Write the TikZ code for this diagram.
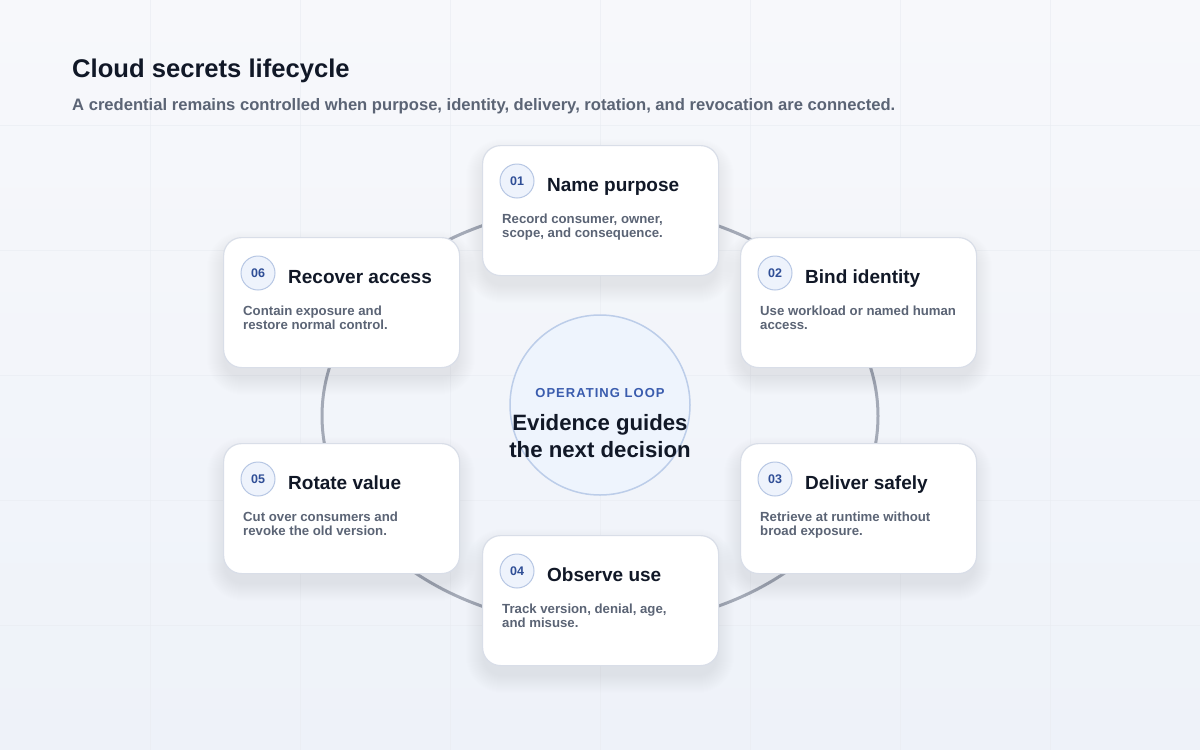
\documentclass[tikz,border=0pt]{standalone}
\usepackage{fontspec}
\setmainfont{Liberation Sans}
\usetikzlibrary{calc}
\definecolor{bgtop}{HTML}{F7F8FB}
\definecolor{bgbot}{HTML}{EEF2F9}
\definecolor{gridc}{HTML}{E9ECF2}
\definecolor{ringc}{HTML}{A4AAB7}
\definecolor{cardbd}{HTML}{D9DEE8}
\definecolor{shadowc}{HTML}{1E2A4A}
\definecolor{ink}{HTML}{111827}
\definecolor{muted}{HTML}{5B6475}
\definecolor{numfill}{HTML}{EEF3FC}
\definecolor{numbd}{HTML}{B7C7E4}
\definecolor{numtxt}{HTML}{2F4E96}
\definecolor{hubfill}{HTML}{EEF4FD}
\definecolor{hubbd}{HTML}{BCCDE9}
\definecolor{hubtxt}{HTML}{3A5CAE}
\begin{document}
\begin{tikzpicture}[x=1pt,y=-1pt,
  card/.style={draw=cardbd, line width=1.2pt, fill=white, rounded corners=18pt,
    minimum width=236pt, minimum height=130pt, inner sep=0pt, anchor=north west},
  shadowlayer/.style={fill=shadowc, opacity=0.0045},
  num/.style={circle, draw=numbd, line width=1pt, fill=numfill, minimum size=34pt, inner sep=0pt},
  numtext/.style={anchor=base, inner sep=0pt, font=\fontsize{12.5}{14}\selectfont\bfseries, text=numtxt},
  ctitle/.style={anchor=base west, inner sep=0pt, font=\fontsize{19}{22}\selectfont\bfseries, text=ink},
  cdesc/.style={anchor=base west, inner sep=0pt, font=\fontsize{13.2}{14}\selectfont\bfseries, text=muted},
  hubline/.style={anchor=base, inner sep=0pt, font=\fontsize{22.2}{26}\selectfont\bfseries, text=ink},
]
\useasboundingbox (0,0) rectangle (1200,750);
\fill[top color=bgtop, bottom color=bgbot] (0,0) rectangle (1200,750);
\foreach \gx in {150,300,...,1050} \draw[gridc, line width=1pt, opacity=0.6] (\gx,0) -- (\gx,750);
\foreach \gy in {125,250,...,625} \draw[gridc, line width=1pt, opacity=0.6] (0,\gy) -- (1200,\gy);

\node[anchor=base west, inner sep=0pt, font=\fontsize{25.6}{30}\selectfont\bfseries, text=ink] (title) at (72,77) {Cloud secrets lifecycle};
\node[anchor=base west, inner sep=0pt, font=\fontsize{16.6}{19}\selectfont\bfseries, text=muted] (subtitle) at (72,110) {A credential remains controlled when purpose, identity, delivery, rotation, and revocation are connected.};

\coordinate (ringc) at (600,416);
\draw[ringc, line width=3pt] (ringc) ellipse [x radius=278pt, y radius=210pt];

\foreach \nm/\cx/\cy/\nn/\tt/\la/\lb in {
  1/482/145/01/Name purpose/{Record consumer, owner,}/{scope, and consequence.},
  2/740/237/02/Bind identity/{Use workload or named human}/{access.},
  3/740/443/03/Deliver safely/{Retrieve at runtime without}/{broad exposure.},
  4/482/535/04/Observe use/{Track version, denial, age,}/{and misuse.},
  5/223/443/05/Rotate value/{Cut over consumers and}/{revoke the old version.},
  6/223/237/06/Recover access/{Contain exposure and}/{restore normal control.}}{
  \foreach \k in {1,...,18}{
    \pgfmathsetmacro\rr{18+\k}
    \fill[shadowlayer, rounded corners=\rr pt] ($(\cx,\cy)+(-\k+2,-\k+12)$) rectangle ($(\cx,\cy)+(234+\k,128+\k+12)$);
  }
  \node[card] (c\nm) at (\cx,\cy) {};
  \node[num] (n\nm) at ($(\cx,\cy)+(35,36)$) {};
  \node[numtext] (nt\nm) at ($(n\nm.center)+(0,4.5)$) {\nn};
  \node[ctitle] (t\nm) at ($(\cx,\cy)+(65,46)$) {\tt};
  \node[cdesc] (da\nm) at ($(\cx,\cy)+(20,78)$) {\la};
  \node[cdesc] (db\nm) at ($(\cx,\cy)+(20,92)$) {\lb};
}

\node[circle, draw=hubbd, fill=hubfill, line width=1.5pt, minimum size=180pt, inner sep=0pt] (hub) at (600,405) {};
\node[anchor=base, inner sep=0pt, font=\fontsize{13}{15}\selectfont\bfseries\addfontfeature{LetterSpace=8}, text=hubtxt] (hubk) at (600,397) {OPERATING LOOP};
\node[hubline] (hub1) at (600,430) {Evidence guides};
\node[hubline] (hub2) at (600,457) {the next decision};
\end{tikzpicture}
\end{document}
